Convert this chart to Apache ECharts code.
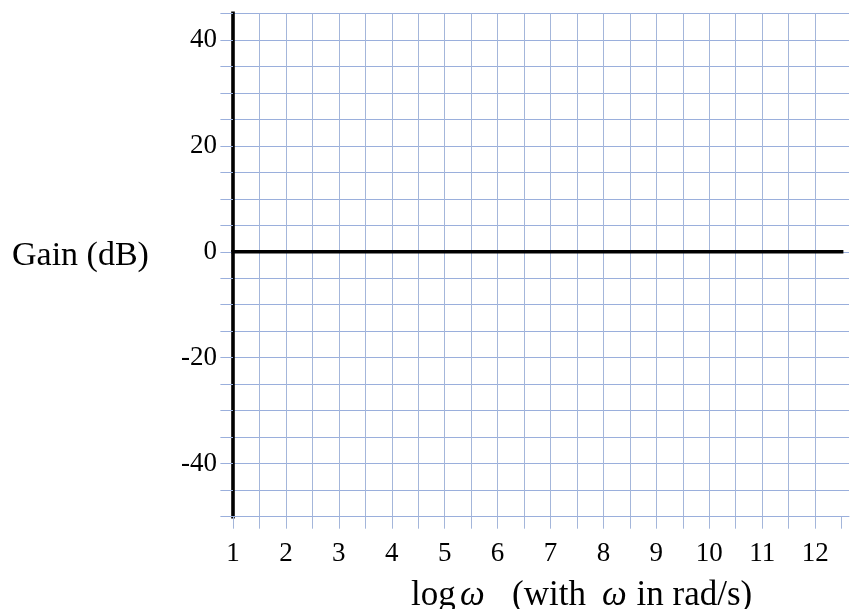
<!DOCTYPE html>
<html>
<head>
<meta charset="utf-8">
<script src="https://cdn.jsdelivr.net/npm/echarts@6/dist/echarts.min.js"></script>
<style>
html,body{margin:0;padding:0;background:#fff;}
#chart{width:854px;height:609px;}
</style>
</head>
<body>
<div id="chart"></div>
<script>
// ---- data ----
const xTickValues = [1, 1.5, 2, 2.5, 3, 3.5, 4, 4.5, 5, 5.5, 6, 6.5, 7, 7.5, 8, 8.5, 9, 9.5, 10, 10.5, 11, 11.5, 12, 12.5];
const xLabelValues = [1, 2, 3, 4, 5, 6, 7, 8, 9, 10, 11, 12];
const yLabelValues = [-40, -20, 0, 20, 40];
const logOmega = [1, 12.5];
const gainDb = [0, 0];
const yTitle = 'Gain (dB)';

const FONT = "'Liberation Serif', 'Times New Roman', serif";
const GRID = '#a4b6da';
const GRID_H = '#9aafdc';

const chart = echarts.init(document.getElementById('chart'), null, {renderer: 'canvas'});
chart.setOption({
  animation: false,
  backgroundColor: '#ffffff',
  grid: {left: 233, right: 5, top: 13.3, bottom: 92.3, containLabel: false},
  title: [{
    text: yTitle,
    left: 7, top: 234,
    textStyle: {fontFamily: FONT, fontSize: 34, fontWeight: 'normal', color: '#000', lineHeight: 34}
  }, {
    text: '{a|log}{b|ω}{c|(with}{d|ω}{e|in rad/s)}',
    left: 406, top: 573,
    textStyle: {
      fontFamily: FONT, fontSize: 35, fontWeight: 'normal', color: '#000',
      rich: {
        a: {fontFamily: FONT, fontSize: 35, color: '#000', lineHeight: 35, width: 49},
        b: {fontFamily: FONT, fontSize: 35, fontStyle: 'italic', color: '#000', lineHeight: 35, width: 52},
        c: {fontFamily: FONT, fontSize: 35, color: '#000', lineHeight: 35, width: 90},
        d: {fontFamily: FONT, fontSize: 35, fontStyle: 'italic', color: '#000', lineHeight: 35, width: 34.5},
        e: {fontFamily: FONT, fontSize: 35, color: '#000', lineHeight: 35}
      }
    }
  }],
  xAxis: {
    type: 'value',
    min: 1, max: 12.64, interval: 0.5,
    axisLine: {show: true, onZero: false, lineStyle: {color: GRID_H, width: 1}},
    axisTick: {show: true, length: 12, inside: false, customValues: xTickValues, lineStyle: {color: GRID, width: 1}},
    axisLabel: {
      show: true, margin: 24, customValues: xLabelValues,
      fontFamily: FONT, fontSize: 27, color: '#000',
      showMinLabel: true, showMaxLabel: true,
      formatter: function (v) { return xLabelValues.indexOf(v) >= 0 ? String(v) : ''; }
    },
    splitLine: {show: true, showMaxLine: false, lineStyle: {color: GRID, width: 1}}
  },
  yAxis: {
    type: 'value',
    min: -50, max: 45, interval: 5,
    axisLine: {show: true, onZero: false, lineStyle: {color: '#000', width: 3.6, cap: 'square'}},
    axisTick: {show: true, length: 12.6, inside: false, lineStyle: {color: GRID_H, width: 1}},
    axisLabel: {
      show: true, margin: 16, customValues: yLabelValues,
      fontFamily: FONT, fontSize: 27, color: '#000',
      formatter: function (v) { return yLabelValues.indexOf(v) >= 0 ? String(v) : ''; }
    },
    splitLine: {show: true, lineStyle: {color: GRID_H, width: 1}}
  },
  series: [{
    type: 'line',
    data: logOmega.map((x, i) => [x, gainDb[i]]),
    showSymbol: false,
    symbol: 'none',
    lineStyle: {color: '#000', width: 3.6, cap: 'square'},
    z: 5
  }]
});
</script>
</body>
</html>
